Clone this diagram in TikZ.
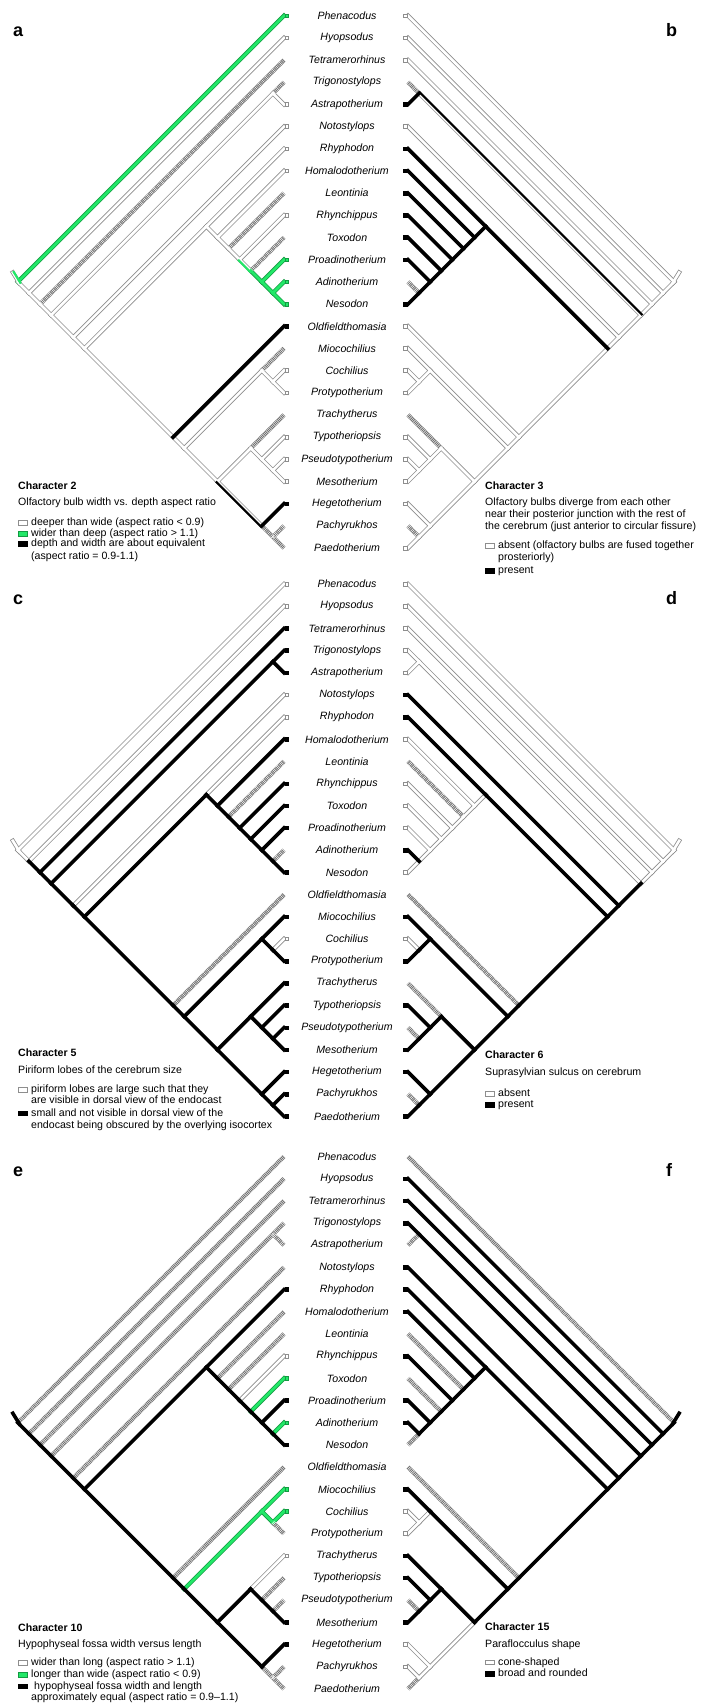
\documentclass[tikz,border=0pt]{standalone}
\usepackage{fontspec}
\setmainfont{Liberation Sans}
\usetikzlibrary{calc}
\definecolor{branchgray}{HTML}{8E8E8E}
\definecolor{hatchgray}{HTML}{6E6E6E}
\definecolor{stategreen}{HTML}{22E868}
\definecolor{greenedge}{HTML}{139A42}

% one entry per branch: child clade (first/last tip), parent clade (first/last tip)
\def\brI{{0,1,1,2,2,3,3,3,4,5,5,6,6,6,7,7,8,8,9,9,10,10,11,11,12,12,13,14,14,15,15,15,16,16,17,18,18,18,19,19,20,20,21,22,22,23,23,24}}
\def\brJ{{0,24,1,24,2,24,4,3,4,24,5,24,13,6,13,7,13,8,13,9,13,10,13,11,13,12,13,24,14,24,17,15,17,16,17,24,21,18,21,19,21,20,21,24,22,24,23,24}}
\def\brA{{0,0,1,1,2,2,3,3,3,3,5,5,6,6,6,7,7,8,8,9,9,10,10,11,11,12,12,6,14,14,15,15,15,16,16,15,18,18,18,19,19,20,20,18,22,22,23,23}}
\def\brB{{24,24,24,24,24,24,24,4,4,24,24,24,24,13,13,13,13,13,13,13,13,13,13,13,13,13,13,24,24,24,24,17,17,17,17,24,24,21,21,21,21,21,21,24,24,24,24,24}}
\def\tipsep{22.18}
\def\topA{15.7}
\def\topC{584}
\def\topE{1156.5}

% #1 name, #2 side (1 = tips on the right, -1 = tips on the left), #3 tip x,
% #4 first tip y, #5 root stub state, #6 branch states
\newcommand\drawtree[6]{%
  \pgfmathsetmacro\rootx{#3-(#2)*12*\tipsep}
  \pgfmathsetmacro\rooty{#4+12*\tipsep}
  \foreach \lay in {1,2,3}{
    \def\ox{0.9}\def\oy{-0.4}
    \draw[l\lay#5] ({\rootx-(#2)*5},{\rooty-9.4}) -- ({\rootx+(#2)*1.5},{\rooty+1.2});
    \foreach \stt [count=\n from 0] in {#6}{
      \pgfmathsetmacro\ci{\brI[\n]}
      \pgfmathsetmacro\cj{\brJ[\n]}
      \pgfmathsetmacro\pa{\brA[\n]}
      \pgfmathsetmacro\pb{\brB[\n]}
      \pgfmathsetmacro\bx{#3-(#2)*(\cj-\ci)*\tipsep/2}
      \pgfmathsetmacro\by{#4+(\ci+\cj)*\tipsep/2}
      \pgfmathsetmacro\qx{#3-(#2)*(\pb-\pa)*\tipsep/2}
      \pgfmathsetmacro\qy{#4+(\pa+\pb)*\tipsep/2}
      \pgfmathsetmacro\blen{veclen(\bx-\qx,\by-\qy)}
      \pgfmathsetmacro\ox{-(\by-\qy)/\blen*1.1}
      \pgfmathsetmacro\oy{(\bx-\qx)/\blen*1.1}
      \draw[l\lay\stt] (\qx,\qy) -- (\bx,\by);
      \ifnum\lay=3
        \pgfmathtruncatemacro\istip{\ci==\cj}
        \ifnum\istip=1 \node[tip\stt] (#1t\n) at ({\bx+(#2)*2.8},\by) {}; \fi
      \fi
    }
  }
}

\begin{document}
\begin{tikzpicture}[x=1pt, y=-1pt,
    taxon/.style={font=\fontsize{10.6}{12}\selectfont\itshape, inner sep=0pt},
    letter/.style={font=\fontsize{18}{20}\selectfont\bfseries, anchor=base west, inner sep=0pt},
    legtitle/.style={font=\fontsize{10.6}{12}\selectfont\bfseries, anchor=west, inner sep=0pt,
        text height=7.7pt, text depth=2.2pt},
    legtext/.style={font=\fontsize{10.6}{12}\selectfont, anchor=west, inner sep=0pt,
        text height=7.7pt, text depth=2.2pt},
    swatch/.style={rectangle, minimum width=8.6pt, minimum height=4.6pt, inner sep=0pt, line width=0.6pt},
    swatchw/.style={swatch, draw=branchgray, fill=white},
    swatchg/.style={swatch, draw=greenedge, fill=stategreen},
    swatchk/.style={swatch, draw=black, fill=black},
    tip/.style={rectangle, minimum size=3.6pt, inner sep=0pt, line width=0.6pt},
    tipw/.style={tip, draw=branchgray, fill=white},
    tipg/.style={tip, draw=greenedge, fill=stategreen},
    tipk/.style={tip, draw=black, fill=black},
    tiph/.style={tip},
    tipkw/.style={tipk}, tipgw/.style={tipg},
    % layer 1: outlines, layer 2: fills, layer 3: solid black
    l1w/.style={draw=branchgray, line width=4.2pt, line cap=rect},
    l2w/.style={draw=white, line width=2.6pt, line cap=rect},
    l3w/.style={draw=none},
    l1g/.style={draw=greenedge, line width=4.2pt, line cap=rect},
    l2g/.style={draw=stategreen, line width=2.7pt, line cap=rect},
    l3g/.style={draw=none},
    l1h/.style={draw=hatchgray, line width=4.2pt},
    l2h/.style={draw=white, line width=4.2pt, dash pattern=on 0.45pt off 1.2pt},
    l3h/.style={draw=none},
    l1k/.style={draw=none},
    l2k/.style={draw=none},
    l3k/.style={draw=black, line width=3.6pt, line cap=rect},
    l1kw/.style={l1w}, l2kw/.style={l2w},
    l3kw/.style={draw=black, line width=2.2pt, line cap=rect, shift={(\ox,\oy)}},
    l1gw/.style={l1w}, l2gw/.style={l2w},
    l3gw/.style={draw=stategreen, line width=2.2pt, line cap=rect, shift={(\ox,\oy)}}
]
    \useasboundingbox (0,0) rectangle (712,1704);

    % taxon names, one column per row of panels
    \foreach \tx [count=\k from 0] in {Phenacodus, Hyopsodus, Tetramerorhinus, Trigonostylops,
        Astrapotherium, Notostylops, Rhyphodon, Homalodotherium, Leontinia, Rhynchippus, Toxodon,
        Proadinotherium, Adinotherium, Nesodon, Oldfieldthomasia, Miocochilius, Cochilius,
        Protypotherium, Trachytherus, Typotheriopsis, Pseudotypotherium, Mesotherium,
        Hegetotherium, Pachyrukhos, Paedotherium}{
        \node[taxon] (ab\k) at (347,\topA+\k*\tipsep) {\tx};
        \node[taxon] (cd\k) at (347,\topC+\k*\tipsep) {\tx};
        \node[taxon] (ef\k) at (347,\topE+\k*\tipsep) {\tx};
    }

    % a: character 2
    \drawtree{a}{1}{284}{\topA}{gw}{g,w,w,w,h,w,w,h,w,w, w,w,w,w,w,w,w,h,w,w,
        gw,h,g,g,g,g,g,w,k,w, w,h,w,w,w,w,w,h,w,w, w,w,w,kw,k,h,h,h}
    % b: character 3
    \drawtree{b}{-1}{408}{\topA}{w}{w,w,w,w,w,w,kw,h,k,w, w,w,k,k,k,k,k,k,k,k,
        k,k,k,k,k,h,k,w,w,w, w,w,w,w,w,w,w,h,w,w, w,w,w,w,w,w,h,w}
    % c: character 5
    \drawtree{c}{1}{284}{\topC}{w}{w,w,w,k,k,k,k,k,k,k, w,k,k,w,k,k,k,h,k,k,
        k,k,k,k,k,h,k,k,h,k, k,k,k,w,k,k,k,k,k,k, k,k,k,k,k,k,k,k}
    % d: character 6
    \drawtree{d}{-1}{408}{\topC}{w}{w,w,w,w,w,w,w,w,w,k, k,k,k,k,w,w,w,h,w,w,
        w,w,w,w,w,k,w,k,h,k, k,k,k,w,k,k,k,h,k,k, k,h,k,k,k,k,h,k}
    % e: character 10
    \drawtree{e}{1}{284}{\topE}{k}{h,k,h,k,h,k,h,h,h,k, h,k,k,k,k,h,k,h,k,w,
        k,g,k,k,k,g,k,k,h,k, g,g,g,g,h,k,k,w,k,h, k,h,k,k,k,h,h,h}
    % f: character 15
    \drawtree{f}{-1}{408}{\topE}{k}{h,k,k,k,k,k,k,k,h,k, k,k,k,k,k,k,k,h,k,k,
        k,h,k,k,k,k,h,k,h,k, k,k,w,w,w,k,k,k,k,k, k,h,k,w,w,w,w,h}

    % panel letters
    \node[letter] (la) at (13,\topA+21) {a};
    \node[letter] (lb) at (666,\topA+21) {b};
    \node[letter] (lc) at (13,\topC+20) {c};
    \node[letter] (ld) at (666,\topC+20) {d};
    \node[letter] (le) at (13,\topE+20) {e};
    \node[letter] (lf) at (666,\topE+20) {f};

    % legend a
    \node[legtitle] (ta) at (18,487) {Character 2};
    \node[legtext] (da) at (18,503) {Olfactory bulb width vs. depth aspect ratio};
    \node[swatchw] (sa1) at (22.5,523) {};
    \node[legtext] (ia1) at (31,523) {deeper than wide (aspect ratio < 0.9)};
    \node[swatchg] (sa2) at (22.5,533.5) {};
    \node[legtext] (ia2) at (31,533.5) {wider than deep (aspect ratio > 1.1)};
    \node[swatchk] (sa3) at (22.5,544) {};
    \node[legtext] (ia3) at (31,544) {depth and width are about equivalent};
    \node[legtext] (ia4) at (31,556.5) {(aspect ratio = 0.9-1.1)};

    % legend b
    \node[legtitle] (tb) at (485,487) {Character 3};
    \node[legtext] (db1) at (485,502.7) {Olfactory bulbs diverge from each other};
    \node[legtext] (db2) at (485,514.8) {near their posterior junction with the rest of};
    \node[legtext] (db3) at (485,526.7) {the cerebrum (just anterior to circular fissure)};
    \node[swatchw] (sb1) at (489.5,545.7) {};
    \node[legtext] (ib1) at (498,545.7) {absent (olfactory bulbs are fused together};
    \node[legtext] (ib2) at (498,557.7) {prosteriorly)};
    \node[swatchk] (sb2) at (489.5,570.5) {};
    \node[legtext] (ib3) at (498,570.5) {present};

    % legend c
    \node[legtitle] (tc) at (18,1054) {Character 5};
    \node[legtext] (dc) at (18,1070.7) {Piriform lobes of the cerebrum size};
    \node[swatchw] (sc1) at (22.5,1090) {};
    \node[legtext] (ic1) at (31,1090) {piriform lobes are large such that they};
    \node[legtext] (ic2) at (31,1100.8) {are visible in dorsal view of the endocast};
    \node[swatchk] (sc2) at (22.5,1113.3) {};
    \node[legtext] (ic3) at (31,1113.3) {small and not visible in dorsal view of the};
    \node[legtext] (ic4) at (31,1125.3) {endocast being obscured by the overlying isocortex};

    % legend d
    \node[legtitle] (td) at (485,1056) {Character 6};
    \node[legtext] (dd) at (485,1072.5) {Suprasylvian sulcus on cerebrum};
    \node[swatchw] (sd1) at (489.5,1093.5) {};
    \node[legtext] (id1) at (498,1093.5) {absent};
    \node[swatchk] (sd2) at (489.5,1104.5) {};
    \node[legtext] (id2) at (498,1104.5) {present};

    % legend e
    \node[legtitle] (te) at (18,1629) {Character 10};
    \node[legtext] (de) at (18,1645) {Hypophyseal fossa width versus length};
    \node[swatchw] (se1) at (22.5,1663) {};
    \node[legtext] (ie1) at (31,1663) {wider than long (aspect ratio > 1.1)};
    \node[swatchg] (se2) at (22.5,1674.8) {};
    \node[legtext] (ie2) at (31,1674.8) {longer than wide (aspect ratio < 0.9)};
    \node[swatchk] (se3) at (22.5,1686.4) {};
    \node[legtext] (ie3) at (34,1686.4) {hypophyseal fossa width and length};
    \node[legtext] (ie4) at (31,1697.5) {approximately equal (aspect ratio = 0.9–1.1)};

    % legend f
    \node[legtitle] (tf) at (485,1628) {Character 15};
    \node[legtext] (df) at (485,1644.7) {Paraflocculus shape};
    \node[swatchw] (sf1) at (489.5,1662.4) {};
    \node[legtext] (if1) at (498,1662.4) {cone-shaped};
    \node[swatchk] (sf2) at (489.5,1673.7) {};
    \node[legtext] (if2) at (498,1673.7) {broad and rounded};
\end{tikzpicture}
\end{document}
